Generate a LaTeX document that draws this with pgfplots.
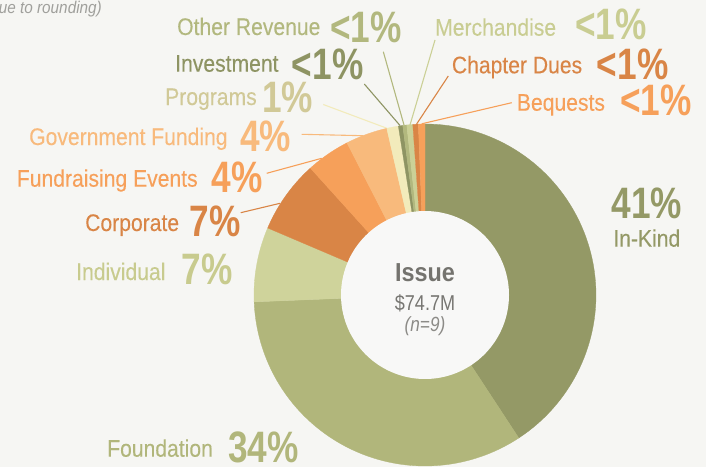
\documentclass[border=0pt]{standalone}
\usepackage{pgfplots}
\pgfplotsset{compat=1.18}
\usepackage{pgfplotstable}
\usepackage{fontspec}
\setmainfont{Liberation Sans}
\newfontfamily\lblfont[FakeStretch=0.88,FakeBold=0.15]{Liberation Sans}
\newfontfamily\lblitfont[FakeStretch=0.9]{Liberation Sans Italic}
\newfontfamily\numfont[FakeStretch=0.8]{Liberation Sans Bold}
\newfontfamily\ctrbold[FakeStretch=0.9]{Liberation Sans Bold}
\newfontfamily\ctrfont[FakeStretch=0.84]{Liberation Sans}
\newfontfamily\ctrit[FakeStretch=0.84]{Liberation Sans Italic}
\newcommand\lbl{\lblfont\fontsize{24}{28}\selectfont}
\newcommand\bignum{\numfont\fontsize{44}{50}\selectfont}

\definecolor{bg}{HTML}{F6F6F3}
\definecolor{hole}{HTML}{F8F8F7}
\definecolor{cInKind}{HTML}{949966}
\definecolor{cFoundation}{HTML}{B1B67B}
\definecolor{cIndividual}{HTML}{CFD39B}
\definecolor{cCorporate}{HTML}{D98546}
\definecolor{cFundraising}{HTML}{F6A05A}
\definecolor{cGovernment}{HTML}{F8BA7C}
\definecolor{cPrograms}{HTML}{F2EBBB}
\definecolor{cInvestment}{HTML}{8E9463}
\definecolor{cOther}{HTML}{B2B87E}
\definecolor{cMerch}{HTML}{CBD096}
\definecolor{cChapter}{HTML}{D98546}
\definecolor{cBequests}{HTML}{F6A05A}
\definecolor{tIndividual}{HTML}{C8CB8E}
\definecolor{tPrograms}{HTML}{D1C997}
\definecolor{tMerch}{HTML}{C9CD92}
\definecolor{tIssue}{HTML}{74736E}
\definecolor{tAmt}{HTML}{777672}
\definecolor{tN}{HTML}{8C8B87}
\definecolor{tNote}{HTML}{A0A09C}

\pgfplotstableread{
name pct col
InKind 40.76 cInKind
Foundation 33.60 cFoundation
Individual 7.05 cIndividual
Corporate 6.90 cCorporate
Fundraising 4.15 cFundraising
Government 3.95 cGovernment
Programs 1.10 cPrograms
Investment 0.41 cInvestment
Other 0.38 cOther
Merchandise 0.56 cMerch
ChapterDues 0.52 cChapter
Bequests 0.62 cBequests
}\shares

\begin{document}
\begin{tikzpicture}
\fill[bg] (0,0) rectangle (706pt,467pt);
\begin{axis}[
  at={(0,0)}, anchor=south west,
  scale only axis, width=706pt, height=467pt,
  xmin=0, xmax=706, ymin=0, ymax=467,
  hide axis, clip=false,
]
% leader lines
\addplot[draw=cOther, line width=1.1pt] coordinates {(383.3,415.3) (404,342)};
\addplot[draw=cInvestment, line width=1.1pt] coordinates {(364.3,383) (400,341.5)};
\addplot[draw=cPrograms, line width=1.1pt] coordinates {(323.3,362.5) (387,338.7)};
\addplot[draw=cMerch, line width=1.1pt] coordinates {(435,427) (410,342)};
\addplot[draw=cChapter, line width=1.1pt] coordinates {(448.3,391) (416,342)};
\addplot[draw=cBequests, line width=1.1pt] coordinates {(511.7,364.3) (421.7,343.2)};
\addplot[draw=cGovernment, line width=1.1pt] coordinates {(301.7,332.7) (363.3,331.3)};
\addplot[draw=cFundraising, line width=1.1pt] coordinates {(266.7,293.7) (321.7,308.7)};
\addplot[draw=cCorporate, line width=1.1pt] coordinates {(240.7,254.3) (280,263.7)};

% slices
\pgfmathsetmacro\cum{0}
\pgfplotstablegetrowsof{\shares}
\pgfmathtruncatemacro\N{\pgfplotsretval-1}
\pgfplotsforeachungrouped \i in {0,...,\N}{%
  \pgfplotstablegetelem{\i}{pct}\of\shares \let\p\pgfplotsretval
  \pgfplotstablegetelem{\i}{col}\of\shares \let\c\pgfplotsretval
  \pgfmathsetmacro\a{90-3.6*\cum}%
  \pgfmathsetmacro\cum{\cum+\p}%
  \pgfmathsetmacro\b{90-3.6*\cum}%
  \edef\temp{\noexpand\addplot[fill=\c, draw=\c, line width=0.3pt, domain=\b:\a, samples=80] ({425+171*cos(x)},{172+171*sin(x)}) -- (axis cs:425,172) -- cycle;}%
  \temp
}
\addplot[fill=hole, draw=none, domain=0:360, samples=150] ({425+84*cos(x)},{172+84*sin(x)}) -- cycle;

% labels
\node[anchor=base west, inner sep=0, text=cOther] at (axis cs:177,432) {\lbl Other Revenue};
\node[anchor=base west, inner sep=0, text=cOther] at (axis cs:330,424.3) {\bignum <1\%};
\node[anchor=base west, inner sep=0, text=cInvestment] at (axis cs:175,395.3) {\lbl Investment};
\node[anchor=base west, inner sep=0, text=cInvestment] at (axis cs:291.7,387.7) {\bignum <1\%};
\node[anchor=base west, inner sep=0, text=tPrograms] at (axis cs:165,362) {\lbl Programs};
\node[anchor=base west, inner sep=0, text=tPrograms] at (axis cs:262,354.3) {\bignum 1\%};
\node[anchor=base west, inner sep=0, text=tMerch] at (axis cs:435,431.3) {\lbl Merchandise};
\node[anchor=base west, inner sep=0, text=tMerch] at (axis cs:575,427.5) {\bignum <1\%};
\node[anchor=base west, inner sep=0, text=cChapter] at (axis cs:451.7,393.7) {\lbl Chapter Dues};
\node[anchor=base west, inner sep=0, text=cChapter] at (axis cs:596.7,388) {\bignum <1\%};
\node[anchor=base west, inner sep=0, text=cBequests] at (axis cs:516.7,356.3) {\lbl Bequests};
\node[anchor=base west, inner sep=0, text=cBequests] at (axis cs:620,352) {\bignum <1\%};
\node[anchor=base west, inner sep=0, text=cGovernment] at (axis cs:29,322) {\lbl Government Funding};
\node[anchor=base west, inner sep=0, text=cGovernment] at (axis cs:240,315.3) {\bignum 4\%};
\node[anchor=base west, inner sep=0, text=cFundraising] at (axis cs:16.7,280.3) {\lbl Fundraising Events};
\node[anchor=base west, inner sep=0, text=cFundraising] at (axis cs:211.7,274.3) {\bignum 4\%};
\node[anchor=base west, inner sep=0, text=cCorporate] at (axis cs:85,236) {\lbl Corporate};
\node[anchor=base west, inner sep=0, text=cCorporate] at (axis cs:189.3,230.3) {\bignum 7\%};
\node[anchor=base west, inner sep=0, text=tIndividual] at (axis cs:76,187) {\lbl Individual};
\node[anchor=base west, inner sep=0, text=tIndividual] at (axis cs:181.7,183) {\bignum 7\%};
\node[anchor=base west, inner sep=0, text=cFoundation] at (axis cs:107,10.3) {\lbl Foundation};
\node[anchor=base west, inner sep=0, text=cFoundation] at (axis cs:228,5) {\bignum 34\%};
\node[anchor=base, inner sep=0, text=cInKind] at (axis cs:646.7,248.7) {\bignum 41\%};
\node[anchor=base, inner sep=0, text=cInKind] at (axis cs:646.8,220.3) {\lbl In-Kind};
% centre
\node[anchor=base, inner sep=0, text=tIssue] at (axis cs:425,185.3) {\ctrbold\fontsize{26}{30}\selectfont Issue};
\node[anchor=base, inner sep=0, text=tAmt] at (axis cs:425,157) {\ctrfont\fontsize{21.5}{25}\selectfont \$74.7M};
\node[anchor=base, inner sep=0, text=tN] at (axis cs:425,135.5) {\ctrit\fontsize{20.5}{24}\selectfont (n=9)};
% note
\node[anchor=base east, inner sep=0, text=tNote] at (axis cs:102,453.7) {\lblitfont\fontsize{17}{20}\selectfont due to rounding)};
\end{axis}
\pgfresetboundingbox
\useasboundingbox (0,0) rectangle (706pt,467pt);
\end{tikzpicture}
\end{document}
